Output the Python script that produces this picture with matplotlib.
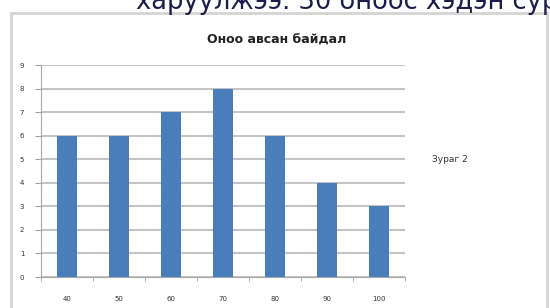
import matplotlib
matplotlib.use("Agg")
import matplotlib.pyplot as plt
from matplotlib.patches import Rectangle
import numpy as np

# оноо ба тоо
onoo = ["40", "50", "60", "70", "80", "90", "100"]
too = [6, 6, 7, 8, 6, 4, 3]
yticks = [0, 1, 2, 3, 4, 5, 6, 7, 8, 9]

fig = plt.figure(figsize=(5.5, 3.08), dpi=100)
fig.patch.set_facecolor("white")

# chart frame
fig.patches.append(Rectangle((11/550, -0.05), 536/550, 1 - 13/308 + 0.05,
                             transform=fig.transFigure, fill=False,
                             edgecolor="#d4d4d4", linewidth=2))

# text from the document above the chart (cut off at the top, as in the scan)
fig.text(136/550, 1 - 9/308, "харуулжээ. 30 оноос хэдэн сур", fontsize=18.5,
         color="#1c1c4a", ha="left", va="baseline")

ax = fig.add_axes([41/550, 1 - 277/308, (405 - 41)/550, (277 - 65)/308])
x = np.arange(len(onoo))
ax.bar(x, too, width=0.38, color="#4a7ebb", zorder=3)

ax.set_xlim(-0.5, len(onoo) - 0.5)
ax.set_ylim(0, 9)
ax.set_yticks(yticks)
ax.set_yticklabels([str(v) for v in yticks], fontsize=5, color="#333333")
ax.set_xticks(x)
ax.set_xticklabels(onoo, fontsize=5, color="#333333")
ax.set_xticks(np.arange(-0.5, len(onoo)), minor=True)
ax.tick_params(axis="x", which="major", length=0, pad=14)
ax.tick_params(axis="x", which="minor", length=3, color="#a0a0a0")
ax.tick_params(axis="y", length=4, color="#a0a0a0", pad=8)
ax.yaxis.grid(True, color="#c4c4c4", linewidth=1.5, zorder=0)

for s in ["top", "right"]:
    ax.spines[s].set_visible(False)
ax.spines["left"].set_color("#a8a8a8")
ax.spines["bottom"].set_color("#a8a8a8")

fig.text(277/550, 1 - 40/308, "Оноо авсан байдал", fontsize=9,
         fontweight="bold", ha="center", va="center", color="#222222")
fig.text(432/550, 1 - 160/308, "Зураг 2", fontsize=6.5,
         ha="left", va="center", color="#333333")

fig.savefig("out.png", dpi=100)
